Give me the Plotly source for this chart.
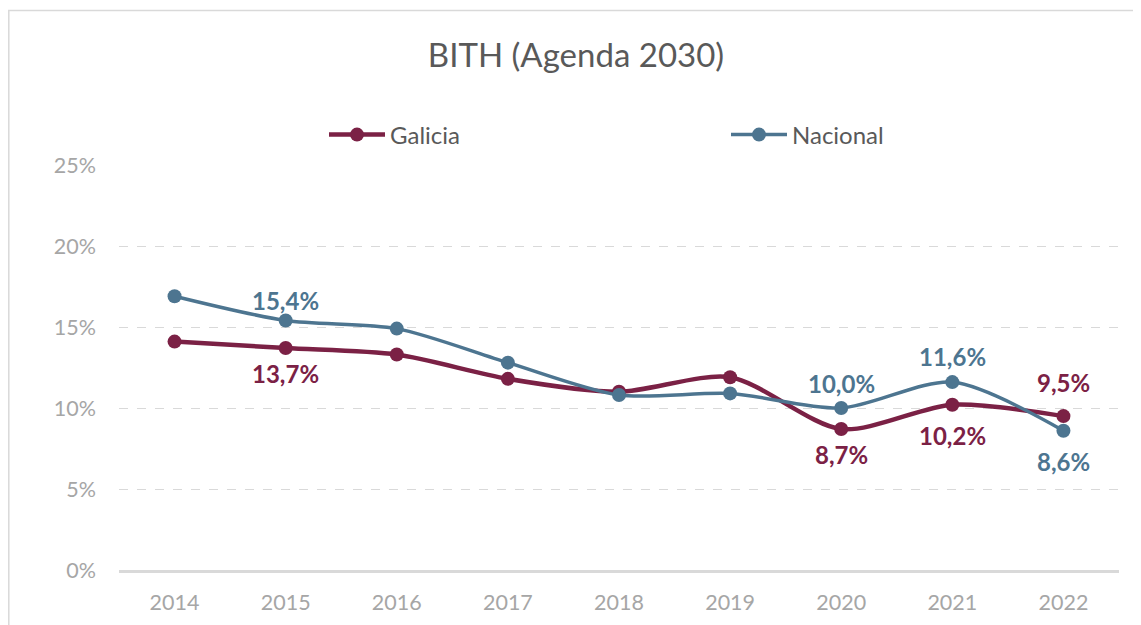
import plotly.graph_objects as go

years = ["2014", "2015", "2016", "2017", "2018", "2019", "2020", "2021", "2022"]
galicia = [14.1, 13.7, 13.3, 11.8, 11.0, 11.9, 8.7, 10.2, 9.5]
nacional = [16.9, 15.4, 14.9, 12.8, 10.8, 10.9, 10.0, 11.6, 8.6]
# which points carry a data label
galicia_labeled = [False, True, False, False, False, False, True, True, True]
nacional_labeled = [False, True, False, False, False, False, True, True, True]

# label vertical offsets in pixels (style only)
galicia_shift = [0, -25, 0, 0, 0, 0, -25, -31, 34]
nacional_shift = [0, 20, 0, 0, 0, 0, 25, 26, -31]

C_GAL = "#7B2145"
C_NAC = "#4D7590"

# page body has an 8px offset; figure sized to fill the rest of the window
W, H = 1133, 617
OFF = 8

def fmt(v):
    return "<b>" + f"{v:.1f}%".replace(".", ",") + "</b>"

fig = go.Figure()
fig.add_trace(go.Scatter(
    x=years, y=galicia, name="Galicia", mode="lines+markers",
    line=dict(color=C_GAL, width=4.5, shape="spline", smoothing=0.8),
    marker=dict(color=C_GAL, size=14),
))
fig.add_trace(go.Scatter(
    x=years, y=nacional, name="Nacional", mode="lines+markers",
    line=dict(color=C_NAC, width=3.5, shape="spline", smoothing=0.8),
    marker=dict(color=C_NAC, size=14),
))

annotations = []
for vals, lab, shifts, col in [(galicia, galicia_labeled, galicia_shift, C_GAL),
                               (nacional, nacional_labeled, nacional_shift, C_NAC)]:
    for i, (v, l, s) in enumerate(zip(vals, lab, shifts)):
        if l:
            annotations.append(dict(
                x=i, y=v, xref="x", yref="y", text=fmt(v), showarrow=False,
                yshift=s, xanchor="center", yanchor="middle",
                font=dict(family="Lato", size=24, color=col),
            ))

fig.update_layout(
    width=W, height=H,
    margin=dict(l=119 - OFF, r=22, t=165 - OFF, b=55, autoexpand=False),
    paper_bgcolor="white", plot_bgcolor="white",
    font=dict(family="Lato", color="#A6A6A6"),
    title=dict(text="BITH (Agenda 2030)", xref="container", x=(576 - OFF) / W, xanchor="center",
               yref="container", y=1 - (55 - OFF) / H, yanchor="middle",
               font=dict(family="Lato", size=33, color="#595959")),
    showlegend=True,
    legend=dict(orientation="h", xref="container", yref="container",
                x=(324 - OFF) / W, xanchor="left", y=1 - (135 - OFF) / H, yanchor="middle",
                entrywidth=331, entrywidthmode="pixels",
                font=dict(family="Lato", size=24, color="#595959"), itemwidth=56),
    xaxis=dict(type="category", range=[-0.5, 8.5], showgrid=False,
               showline=True, linecolor="#D9D9D9", linewidth=3,
               ticks="", ticklabelstandoff=11,
               tickfont=dict(family="Lato", size=21.5, color="#A6A6A6")),
    yaxis=dict(range=[0, 25], tickvals=[0, 5, 10, 15, 20, 25],
               ticktext=["0%", "5%", "10%", "15%", "20%", "25%"],
               showgrid=True, gridcolor="#D9D9D9", griddash="dash", gridwidth=1,
               zeroline=False, showline=False, ticks="", ticklabelstandoff=22,
               tickfont=dict(family="Lato", size=21.5, color="#A6A6A6")),
    annotations=annotations,
    shapes=[dict(type="rect", xref="paper", yref="paper",
                 x0=(8.8 - 119) / 1000, x1=1.2, y0=-0.5, y1=(570 - 10.5) / 405,
                 line=dict(color="#D9D9D9", width=1.5), fillcolor="rgba(0,0,0,0)", layer="below")],
)

fig.write_html("out.html")
